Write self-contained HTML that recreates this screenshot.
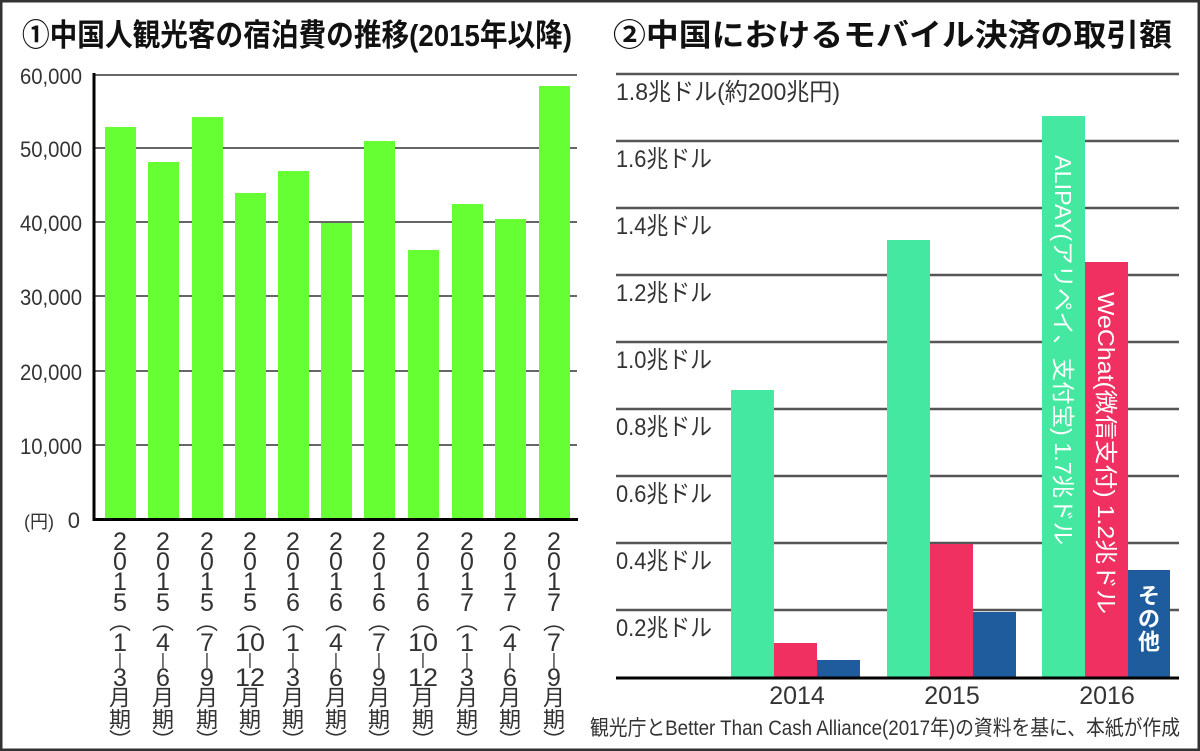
<!DOCTYPE html>
<html><head><meta charset="utf-8"><style>
html,body{margin:0;padding:0;background:#fff}
svg{display:block}
text{font-family:"Liberation Sans","Noto Sans CJK JP",sans-serif}
</style></head><body>
<svg width="1200" height="751" viewBox="0 0 1200 751" xmlns="http://www.w3.org/2000/svg">
<rect x="1" y="1" width="1198" height="749" fill="#fff" stroke="#333" stroke-width="3"/>
<text x="22" y="46" font-size="31" font-weight="bold" fill="#111" textLength="550" lengthAdjust="spacingAndGlyphs">①中国人観光客の宿泊費の推移(2015年以降)</text>
<text x="613" y="46" font-size="31" font-weight="bold" fill="#111" textLength="559" lengthAdjust="spacingAndGlyphs">②中国におけるモバイル決済の取引額</text>

<g stroke="#666" stroke-width="2">
<line x1="94" y1="75" x2="577" y2="75"/>
<line x1="94" y1="148" x2="577" y2="148"/>
<line x1="94" y1="222" x2="577" y2="222"/>
<line x1="94" y1="296" x2="577" y2="296"/>
<line x1="94" y1="371" x2="577" y2="371"/>
<line x1="94" y1="445" x2="577" y2="445"/>
</g>
<g fill="#66ff33">
<rect x="105" y="127" width="31" height="392"/>
<rect x="148" y="162" width="31" height="357"/>
<rect x="192" y="117" width="31" height="402"/>
<rect x="235" y="193" width="31" height="326"/>
<rect x="278" y="171" width="31" height="348"/>
<rect x="321" y="223" width="31" height="296"/>
<rect x="364" y="141" width="31" height="378"/>
<rect x="408" y="250" width="31" height="269"/>
<rect x="452" y="204" width="31" height="315"/>
<rect x="495" y="219" width="31" height="300"/>
<rect x="539" y="86" width="31" height="433"/>
</g>
<line x1="94" y1="73" x2="94" y2="521" stroke="#000" stroke-width="3"/>
<line x1="93" y1="519.5" x2="578" y2="519.5" stroke="#000" stroke-width="3"/>
<g font-size="22" fill="#333" text-anchor="end">
<text x="82" y="84" textLength="62" lengthAdjust="spacingAndGlyphs">60,000</text>
<text x="82" y="157" textLength="62" lengthAdjust="spacingAndGlyphs">50,000</text>
<text x="82" y="231" textLength="62" lengthAdjust="spacingAndGlyphs">40,000</text>
<text x="82" y="305" textLength="62" lengthAdjust="spacingAndGlyphs">30,000</text>
<text x="82" y="380" textLength="62" lengthAdjust="spacingAndGlyphs">20,000</text>
<text x="82" y="454" textLength="62" lengthAdjust="spacingAndGlyphs">10,000</text>
<text x="80" y="528">0</text>
</g>
<text x="24" y="528" font-size="18" fill="#333">(円)</text>

<g font-size="25" fill="#333" text-anchor="middle" dominant-baseline="central" id="xl"></g>

<g stroke="#555" stroke-width="2.5">
<line x1="616" y1="74" x2="1179" y2="74"/>
<line x1="616" y1="141" x2="1179" y2="141"/>
<line x1="616" y1="208" x2="1179" y2="208"/>
<line x1="616" y1="275" x2="1179" y2="275"/>
<line x1="616" y1="342" x2="1179" y2="342"/>
<line x1="616" y1="409" x2="1179" y2="409"/>
<line x1="616" y1="476" x2="1179" y2="476"/>
<line x1="616" y1="543" x2="1179" y2="543"/>
<line x1="616" y1="610" x2="1179" y2="610"/>
</g>
<g font-size="24" fill="#333">
<text x="616" y="100" textLength="224" lengthAdjust="spacingAndGlyphs">1.8兆ドル(約200兆円)</text>
<text x="616" y="167" textLength="96" lengthAdjust="spacingAndGlyphs">1.6兆ドル</text>
<text x="616" y="234" textLength="96" lengthAdjust="spacingAndGlyphs">1.4兆ドル</text>
<text x="616" y="301" textLength="96" lengthAdjust="spacingAndGlyphs">1.2兆ドル</text>
<text x="616" y="368" textLength="96" lengthAdjust="spacingAndGlyphs">1.0兆ドル</text>
<text x="616" y="435" textLength="96" lengthAdjust="spacingAndGlyphs">0.8兆ドル</text>
<text x="616" y="502" textLength="96" lengthAdjust="spacingAndGlyphs">0.6兆ドル</text>
<text x="616" y="569" textLength="96" lengthAdjust="spacingAndGlyphs">0.4兆ドル</text>
<text x="616" y="636" textLength="96" lengthAdjust="spacingAndGlyphs">0.2兆ドル</text>
</g>
<rect x="731" y="390" width="43" height="288" fill="#44e8a0"/>
<rect x="774" y="643" width="43" height="35" fill="#ef3060"/>
<rect x="817" y="660" width="43" height="18" fill="#1f5c9e"/>
<rect x="887" y="240" width="43" height="438" fill="#44e8a0"/>
<rect x="930" y="544" width="43" height="134" fill="#ef3060"/>
<rect x="973" y="612" width="43" height="66" fill="#1f5c9e"/>
<rect x="1042" y="116" width="43" height="562" fill="#44e8a0"/>
<rect x="1085" y="262" width="43" height="416" fill="#ef3060"/>
<rect x="1128" y="570" width="42" height="108" fill="#1f5c9e"/>
<line x1="616" y1="678" x2="1179" y2="678" stroke="#000" stroke-width="3"/>
<text transform="translate(1055,155) rotate(90)" font-size="23" fill="#fff" textLength="390" lengthAdjust="spacingAndGlyphs">ALIPAY(アリペイ、支付宝) 1.7兆ドル</text>
<text transform="translate(1098,292) rotate(90)" font-size="23" fill="#fff" textLength="322" lengthAdjust="spacingAndGlyphs">WeChat(微信支付) 1.2兆ドル</text>
<g font-size="22" font-weight="bold" fill="#fff" text-anchor="middle" dominant-baseline="central">
<text x="1149" y="596">そ</text><text x="1149" y="619">の</text><text x="1149" y="642">他</text>
</g>
<g font-size="25" fill="#333" text-anchor="middle">
<text x="797" y="704">2014</text>
<text x="952" y="704">2015</text>
<text x="1107" y="704">2016</text>
</g>
<text x="590" y="735" font-size="21" fill="#333" textLength="590" lengthAdjust="spacingAndGlyphs">観光庁とBetter Than Cash Alliance(2017年)の資料を基に、本紙が作成</text>
</svg>
<script>
(function(){
var g=document.getElementById('xl');
var cx=[120,163,207,250,293,336,379,423,467,510,554];
var yr=['5','5','5','5','6','6','6','6','7','7','7'];
var a=['1','4','7','10','1','4','7','10','1','4','7'];
var b=['3','6','9','12','3','6','9','12','3','6','9'];
var ys=[542,562,582,603,622,643,660,678,698,720,741];
var ns='http://www.w3.org/2000/svg';
for(var i=0;i<11;i++){
 var ch=['2','0','1',yr[i],'︵',a[i],'|',b[i],'月','期','︶'];
 for(var j=0;j<11;j++){
  var t=document.createElementNS(ns,'text');
  t.setAttribute('x',cx[i]);t.setAttribute('y',ys[j]);
  if(ch[j].length==2){t.setAttribute('textLength','30');t.setAttribute('lengthAdjust','spacingAndGlyphs');t.setAttribute('x',cx[i]-15);t.setAttribute('text-anchor','start');}
  if(ch[j]=='|'){t.setAttribute('font-size','16');}
  if(ch[j]=='月'||ch[j]=='期'||ch[j]=='︵'||ch[j]=='︶'){t.setAttribute('font-size','22');}
  t.textContent=ch[j];g.appendChild(t);
 }
}
})();
</script>
</body></html>
